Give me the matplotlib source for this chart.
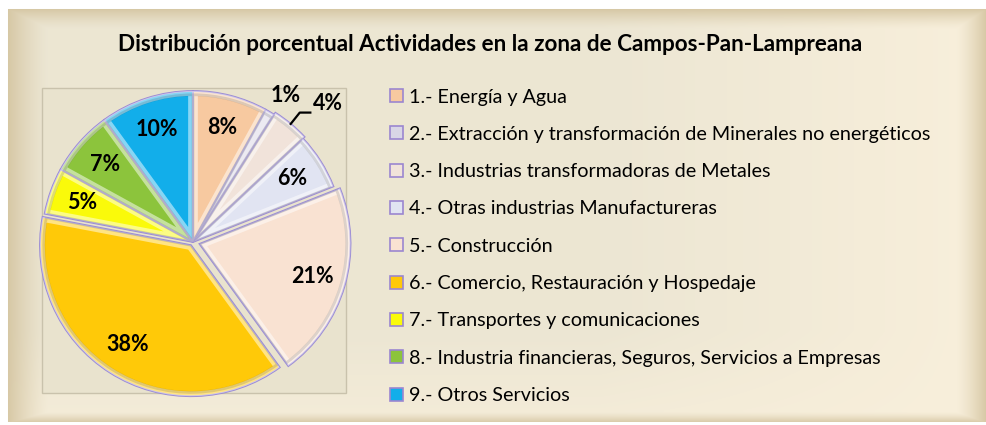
import matplotlib
matplotlib.use("Agg")
import matplotlib.pyplot as plt
import numpy as np
from matplotlib.patches import Patch, Rectangle, Wedge

# Data
sectors = [
    "1.- Energía y Agua",
    "2.- Extracción y transformación de Minerales no energéticos",
    "3.- Industrias transformadoras de Metales",
    "4.- Otras industrias Manufactureras",
    "5.- Construcción",
    "6.- Comercio, Restauración y Hospedaje",
    "7.- Transportes y comunicaciones",
    "8.- Industria financieras, Seguros, Servicios a Empresas",
    "9.- Otros Servicios",
]
shares = [8, 1, 4, 6, 21, 38, 5, 7, 10]
colors = ["#F7C9A0", "#D9D6E6", "#F1E3DA", "#E1E4F2", "#F9E2D2",
          "#FFC908", "#FAFA0A", "#8CC43C", "#12AEEA"]
explode = [0, 0, 0.015, 0, 0.045, 0.025, 0, 0, 0]
title = "Distribución porcentual Actividades en la zona de Campos-Pan-Lampreana"

W, H = 987, 425
plt.rcParams["font.family"] = ["Lato", "DejaVu Sans"]

fig = plt.figure(figsize=(W / 100, H / 100), dpi=100)
fig.patch.set_facecolor("white")

# Beveled beige panel behind everything
bg = fig.add_axes([0, 0, 1, 1])
bg.set_axis_off()
yy, xx = np.mgrid[0:H, 0:W].astype(float)
base_l = np.array([0xEC, 0xE6, 0xD3]) / 255
base_r = np.array([0xF8, 0xEF, 0xDB]) / 255
tan = np.array([0xD3, 0xC3, 0x9E]) / 255
t = np.clip((xx - 600) / 380, 0, 1)[..., None]
img = base_l * (1 - t) + base_r * t
tb = np.clip((yy - 330) / 80, 0, 1)[..., None]
img = img * (1 - 0.6 * tb) + base_r * 0.6 * tb
d = np.maximum.reduce([
    np.clip(1 - (xx - 8) / 40, 0, 1) ** 1.3 * 0.85,
    np.clip(1 - (yy - 9) / 20, 0, 1) ** 1.4 * 0.85,
    np.clip(1 - (985 - xx) / 30, 0, 1) ** 1.4 * 0.85,
    np.clip(1 - (421 - yy) / 10, 0, 1) ** 1.4 * 0.75,
])[..., None]
img = img * (1 - d) + tan * d
outside = (xx < 8) | (xx > 985) | (yy < 9) | (yy > 421)
img[outside] = 1.0
bg.imshow(img, extent=(0, W, H, 0), interpolation="bilinear")
bg.set_xlim(0, W)
bg.set_ylim(H, 0)

# Plot area rectangle
bg.add_patch(Rectangle((42, 88), 304, 305, facecolor="#E9E3CE",
                       edgecolor="#C9C2AC", linewidth=1))

bg.text(490, 44, title, ha="center", va="center", fontsize=16.2,
        fontweight="bold", color="black")

# Pie
cx, cy, R = 193, 242, 151
half = 1.1 * R
ax = fig.add_axes([(cx - half) / W, (H - cy - half) / H, 2 * half / W, 2 * half / H])
ax.set_axis_off()
wedges, _ = ax.pie(shares, colors=colors, explode=explode, startangle=90,
                   counterclock=False, radius=1.0,
                   wedgeprops=dict(edgecolor="#9B8CD4", linewidth=1.3))
ax.set_xlim(-1.1, 1.1)
ax.set_ylim(-1.1, 1.1)
ax.set_aspect("equal")

# Bevel highlight along the edges of each slice
for w in wedges:
    hl = Wedge(w.center, w.r, w.theta1, w.theta2, facecolor="none",
               edgecolor="white", linewidth=7, alpha=0.5)
    ax.add_patch(hl)
    hl.set_clip_path(w)
    sh = Wedge(w.center, w.r * 0.975, w.theta1, w.theta2, facecolor="none",
               edgecolor="black", linewidth=2, alpha=0.12)
    ax.add_patch(sh)
    sh.set_clip_path(w)

# Percentage labels
for w, v in zip(wedges, shares):
    mid = np.deg2rad((w.theta1 + w.theta2) / 2)
    ox, oy = w.center
    if v >= 5:
        r = 0.78
        ax.text(ox + r * np.cos(mid), oy + r * np.sin(mid), f"{v}%",
                ha="center", va="center", fontsize=15.5, fontweight="bold")
    elif v == 1:
        r = 1.15
        ax.text(ox + r * np.cos(mid) + 0.03, oy + r * np.sin(mid) - 0.02, f"{v}%",
                ha="center", va="center", fontsize=15.5, fontweight="bold")
    else:
        p0 = np.array([ox + 1.0 * np.cos(mid), oy + 1.0 * np.sin(mid)])
        p1 = p0 + np.array([0.06, 0.075])
        p2 = p1 + np.array([0.07, 0])
        ax.plot([p0[0], p1[0], p2[0]], [p0[1], p1[1], p2[1]], color="black",
                linewidth=1.6, clip_on=False)
        ax.text(p2[0] + 0.02, p2[1] + 0.06, f"{v}%", ha="left", va="center",
                fontsize=15.5, fontweight="bold")

# Legend
handles = [Patch(facecolor=c, edgecolor="#9B86D0", linewidth=1.2) for c in colors]
fig.legend(handles, sectors, loc="upper left",
           bbox_to_anchor=(390 / W, 1 - 88.5 / H), frameon=False,
           fontsize=14.2, handlelength=0.65, handleheight=0.65,
           handletextpad=0.3, labelspacing=1.03, borderpad=0, borderaxespad=0)

fig.savefig("out.png", dpi=100)
